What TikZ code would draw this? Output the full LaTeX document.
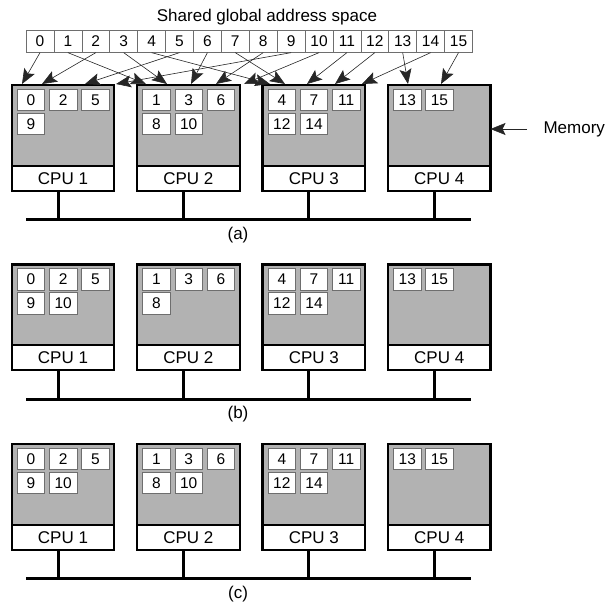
\documentclass[tikz,border=0pt]{standalone}
\usepackage{fontspec}
\setmainfont{Liberation Sans}
\usepackage{xcolor}
\usepackage{tikz}
\usetikzlibrary{positioning,calc,arrows.meta}
\definecolor{memgray}{RGB}{178,178,178}
\definecolor{cellgray}{RGB}{110,110,110}

\begin{document}
\begin{tikzpicture}[x=1pt, y=-1pt, font=\fontsize{17}{20}\selectfont,
    addr/.style={rectangle, draw=cellgray, line width=0.7pt, fill=white, minimum width=27.9pt, minimum height=21.6pt, inner sep=0pt, font=\fontsize{15.5}{18}\selectfont},
    mem/.style={rectangle, draw, line width=2.2pt, fill=memgray, minimum width=102.6pt, minimum height=80.7pt, outer sep=0pt},
    cpu/.style={rectangle, draw, line width=2.2pt, fill=white, minimum width=102.6pt, minimum height=25pt, inner sep=0pt, outer sep=0pt},
    tile/.style={rectangle, draw=cellgray, line width=0.8pt, fill=white, minimum width=27.5pt, minimum height=21.5pt, inner sep=0pt, font=\fontsize{15.5}{18}\selectfont},
    bus/.style={line width=3pt},
    addrarrow/.style={-{Stealth[length=15pt,width=12pt,inset=3pt]}, line width=0.6pt, draw=black!85}]
        \useasboundingbox (0,0) rectangle (611,603);

        \node (title) at (267,17) {Shared global address space};
        \foreach \i in {0,...,15}
            \node[addr] (addr\i) at ({40+27.9*\i}, 41.5) {\i};

        \foreach \p/\ytop in {a/85, b/264.5, c/444} {
            \foreach \k in {1,...,4} {
                \node[mem] (mem\p\k) at ({63+125.4*(\k-1)}, \ytop+40.35) {};
                \node[cpu, below=0pt of mem\p\k] (cpu\p\k) {CPU \k};
                \coordinate (stub\p\k) at ([xshift=-5pt]cpu\p\k.south);
            }
            \coordinate (busL\p) at (26, \ytop+134.5);
            \coordinate (busR\p) at (471, \ytop+134.5);
            \draw[bus] (busL\p) -- (busR\p);
            \foreach \k in {1,...,4}
                \draw[bus] (stub\p\k) -- (stub\p\k |- busL\p);
            \node (lbl\p) at (238, \ytop+150) {(\p)};
        }

        \foreach \p/\k/\lst in {a/1/{0,2,5,9}, a/2/{1,3,6,8,10}, a/3/{4,7,11,12,14}, a/4/{13,15},
                                b/1/{0,2,5,9,10}, b/2/{1,3,6,8}, b/3/{4,7,11,12,14}, b/4/{13,15},
                                c/1/{0,2,5,9,10}, c/2/{1,3,6,8,10}, c/3/{4,7,11,12,14}, c/4/{13,15}}
            \foreach \n [count=\j from 0] in \lst {
                \pgfmathtruncatemacro{\tcol}{mod(\j,3)}
                \pgfmathtruncatemacro{\trow}{\j/3}
                \node[tile] (tile\p\k-\n) at ($(mem\p\k.north west)+(19.35+32.2*\tcol, 14.75+24.3*\trow)$) {\n};
            }

        \foreach \src/\k/\off in {0/1/10.3, 2/1/30.3, 5/1/73.3, 9/1/104.3,
                                  1/2/8.9, 3/2/29.9, 6/2/53.9, 8/2/78.9, 10/2/106.9,
                                  4/3/7.5, 7/3/22.5, 11/3/44.5, 12/3/72.5, 14/3/99.5,
                                  13/4/20.1, 15/4/53.1}
            \draw[addrarrow] (addr\src.south) -- ($(mema\k.north west)+(\off,-1)$);

        \node[right] (memlabel) at (540,129) {Memory};
        \draw[addrarrow, shorten <=13pt] (memlabel.west) -- (mema4.east |- memlabel.west);
\end{tikzpicture}
\end{document}
